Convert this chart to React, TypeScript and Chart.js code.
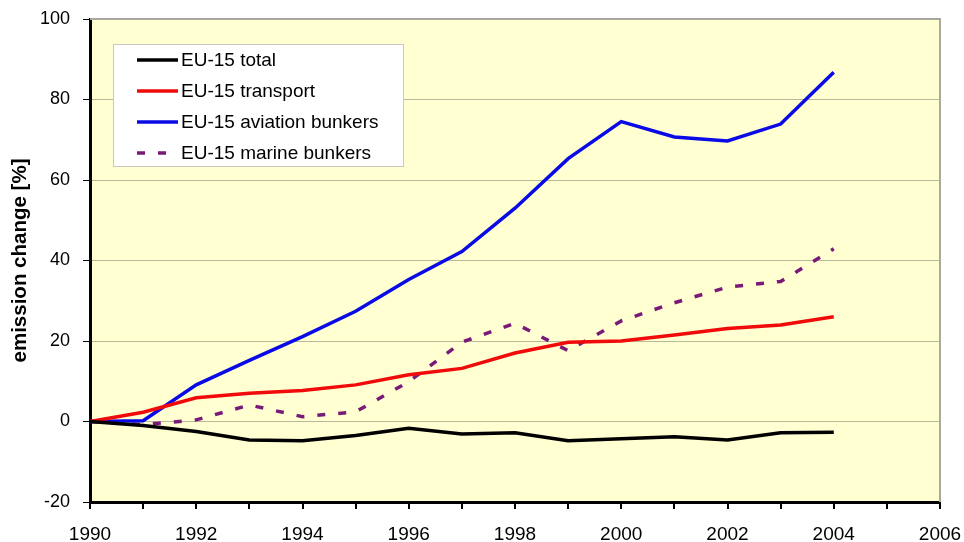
import React, { useEffect, useRef } from "react";
import { Chart, registerables } from "chart.js";

Chart.register(...registerables);

const years = [1990, 1991, 1992, 1993, 1994, 1995, 1996, 1997, 1998, 1999, 2000, 2001, 2002, 2003, 2004];
const totalValues = [0, -1.0, -2.5, -4.6, -4.8, -3.5, -1.7, -3.1, -2.8, -4.8, -4.3, -3.8, -4.6, -2.8, -2.7];
const transportValues = [0, 2.3, 5.9, 7.0, 7.7, 9.1, 11.6, 13.2, 17.0, 19.7, 20.0, 21.5, 23.1, 24.0, 26.0];
const aviationValues = [0, 0.2, 9.1, 15.2, 21.1, 27.4, 35.3, 42.2, 53.0, 65.3, 74.5, 70.7, 69.7, 73.9, 86.8];
const marineValues = [0, -0.8, 0.4, 4.1, 1.2, 2.4, 9.9, 19.7, 24.4, 17.6, 25.0, 29.5, 33.4, 34.8, 42.9];

const seriesLabels = ["EU-15 total", "EU-15 transport", "EU-15 aviation bunkers", "EU-15 marine bunkers"];
const yTitle = "emission change [%]";

const FONT = '"Liberation Sans", Arial, sans-serif';

const toPoints = (vals: number[]) => vals.map((v, i) => ({ x: years[i], y: v }));

const bgPlugin = {
  id: "plotBg",
  beforeDraw(chart: any) {
    const { ctx, chartArea: a } = chart;
    ctx.save();
    ctx.fillStyle = "#FFFFD2";
    ctx.fillRect(a.left, a.top, a.right - a.left, a.bottom - a.top);
    ctx.restore();
  },
  afterDatasetsDraw(chart: any) {
    const { ctx, chartArea: a } = chart;
    ctx.save();
    ctx.strokeStyle = "#A8A8A0";
    ctx.lineWidth = 2;
    ctx.beginPath();
    ctx.moveTo(a.left, a.top);
    ctx.lineTo(a.right, a.top);
    ctx.lineTo(a.right, a.bottom);
    ctx.stroke();
    ctx.restore();
  },
  afterDraw(chart: any) {
    const { ctx } = chart;
    const bx = 113, by = 44, bw = 290, bh = 122;
    ctx.save();
    ctx.fillStyle = "#FFFFFF";
    ctx.fillRect(bx, by, bw, bh);
    ctx.strokeStyle = "#C8C8C0";
    ctx.lineWidth = 1;
    ctx.strokeRect(bx + 0.5, by + 0.5, bw, bh);
    const rows = [60, 91, 122, 153];
    chart.data.datasets.forEach((ds: any, i: number) => {
      const y = rows[i];
      ctx.strokeStyle = ds.borderColor;
      ctx.lineWidth = 3.5;
      ctx.setLineDash(ds.borderDash || []);
      ctx.beginPath();
      ctx.moveTo(137, y);
      ctx.lineTo(178, y);
      ctx.stroke();
      ctx.setLineDash([]);
      ctx.fillStyle = "#000";
      ctx.font = `19px ${FONT}`;
      ctx.textBaseline = "middle";
      ctx.textAlign = "left";
      ctx.fillText(ds.label, 181, y + 1);
    });
    ctx.restore();
  },
};

export default function App() {
  const ref = useRef<HTMLCanvasElement | null>(null);
  useEffect(() => {
    if (!ref.current) return;
    const chart = new Chart(ref.current, {
      type: "line",
      data: {
        datasets: [
          { label: seriesLabels[0], data: toPoints(totalValues), borderColor: "#000000", borderWidth: 3.5, pointRadius: 0, tension: 0 },
          { label: seriesLabels[1], data: toPoints(transportValues), borderColor: "#F00A0A", borderWidth: 3.5, pointRadius: 0, tension: 0 },
          { label: seriesLabels[2], data: toPoints(aviationValues), borderColor: "#0A0AE6", borderWidth: 3.5, pointRadius: 0, tension: 0 },
          { label: seriesLabels[3], data: toPoints(marineValues), borderColor: "#7A1A78", borderWidth: 3.5, borderDash: [8, 13], pointRadius: 0, tension: 0 },
        ],
      },
      options: {
        responsive: false,
        animation: false,
        events: [],
        layout: { padding: { top: 19, right: 24, bottom: 0, left: 0 } },
        plugins: { legend: { display: false }, tooltip: { enabled: false } },
        scales: {
          x: {
            type: "linear",
            min: 1990,
            max: 2006,
            afterFit: (s: any) => {
              s.height = 40;
              s.paddingLeft = 0;
              s.paddingRight = 0;
              s.paddingTop = 0;
              s.paddingBottom = 0;
            },
            ticks: {
              stepSize: 1,
              autoSkip: false,
              maxRotation: 0,
              padding: 14,
              color: "#000",
              font: { size: 19, family: FONT },
              callback: (v: any) => (Number(v) % 2 === 0 ? String(v) : ""),
            },
            grid: { drawOnChartArea: false, drawTicks: true, tickLength: 7, tickColor: "#000", lineWidth: 2 },
            border: { color: "#000", width: 3 },
          },
          y: {
            min: -20,
            max: 100,
            afterFit: (s: any) => {
              s.width = 90;
              s.paddingLeft = 0;
              s.paddingRight = 0;
              s.paddingTop = 0;
              s.paddingBottom = 0;
            },
            ticks: {
              stepSize: 20,
              padding: 13,
              color: "#000",
              font: { size: 18, family: FONT },
            },
            grid: { color: "#B8B89C", lineWidth: 1, tickColor: "#000", tickLength: 7 },
            border: { color: "#000", width: 3 },
            title: {
              display: true,
              text: yTitle,
              color: "#000",
              font: { size: 20.5, weight: "bold", family: FONT },
              padding: { top: 8, bottom: 0 },
            },
          },
        },
      },
      plugins: [bgPlugin],
    });
    return () => chart.destroy();
  }, []);
  return (
    <div style={{ position: "absolute", left: 0, top: 0, width: 964, height: 542, background: "#fff" }}>
      <canvas ref={ref} width={964} height={542} />
    </div>
  );
}
